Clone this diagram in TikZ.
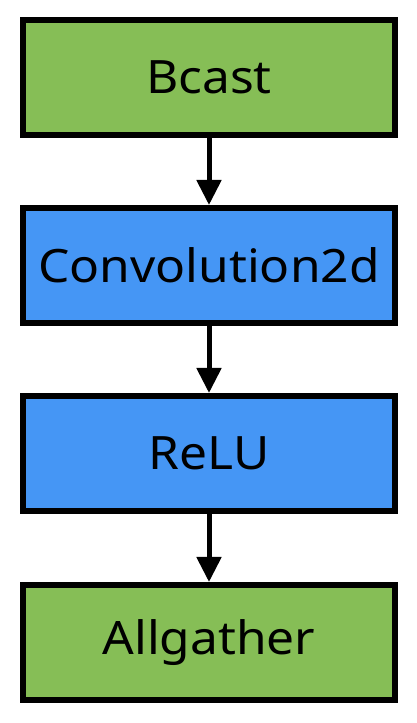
\documentclass[tikz,border=0pt]{standalone}
\usepackage{fontspec}
\setmainfont{Noto Sans}[FakeStretch=1.08]
\usetikzlibrary{arrows.meta}
\definecolor{boxgreen}{HTML}{86BE56}
\definecolor{boxblue}{HTML}{4596F5}
\tikzset{
  opbox/.style={draw=black, line width=6pt, minimum width=372pt, minimum height=115pt, inner sep=0pt, font=\fontsize{46}{52}\selectfont},
  greenbox/.style={opbox, fill=boxgreen},
  bluebox/.style={opbox, fill=boxblue},
  flow/.style={line width=5pt, -{Triangle[width=24pt,length=25pt]}}
}
\begin{document}
\begin{tikzpicture}[x=1pt,y=1pt]
\useasboundingbox (0,0) rectangle (417,723);
\node[greenbox] (bcast) at (209,645.5) {Bcast};
\node[bluebox] (conv) at (209,457.5) {Convolution2d};
\node[bluebox] (relu) at (209,269.5) {ReLU};
\node[greenbox] (allg) at (209,80.5) {Allgather};
\draw[flow] (bcast) -- (conv);
\draw[flow] (conv) -- (relu);
\draw[flow] (relu) -- (allg);
\end{tikzpicture}
\end{document}
